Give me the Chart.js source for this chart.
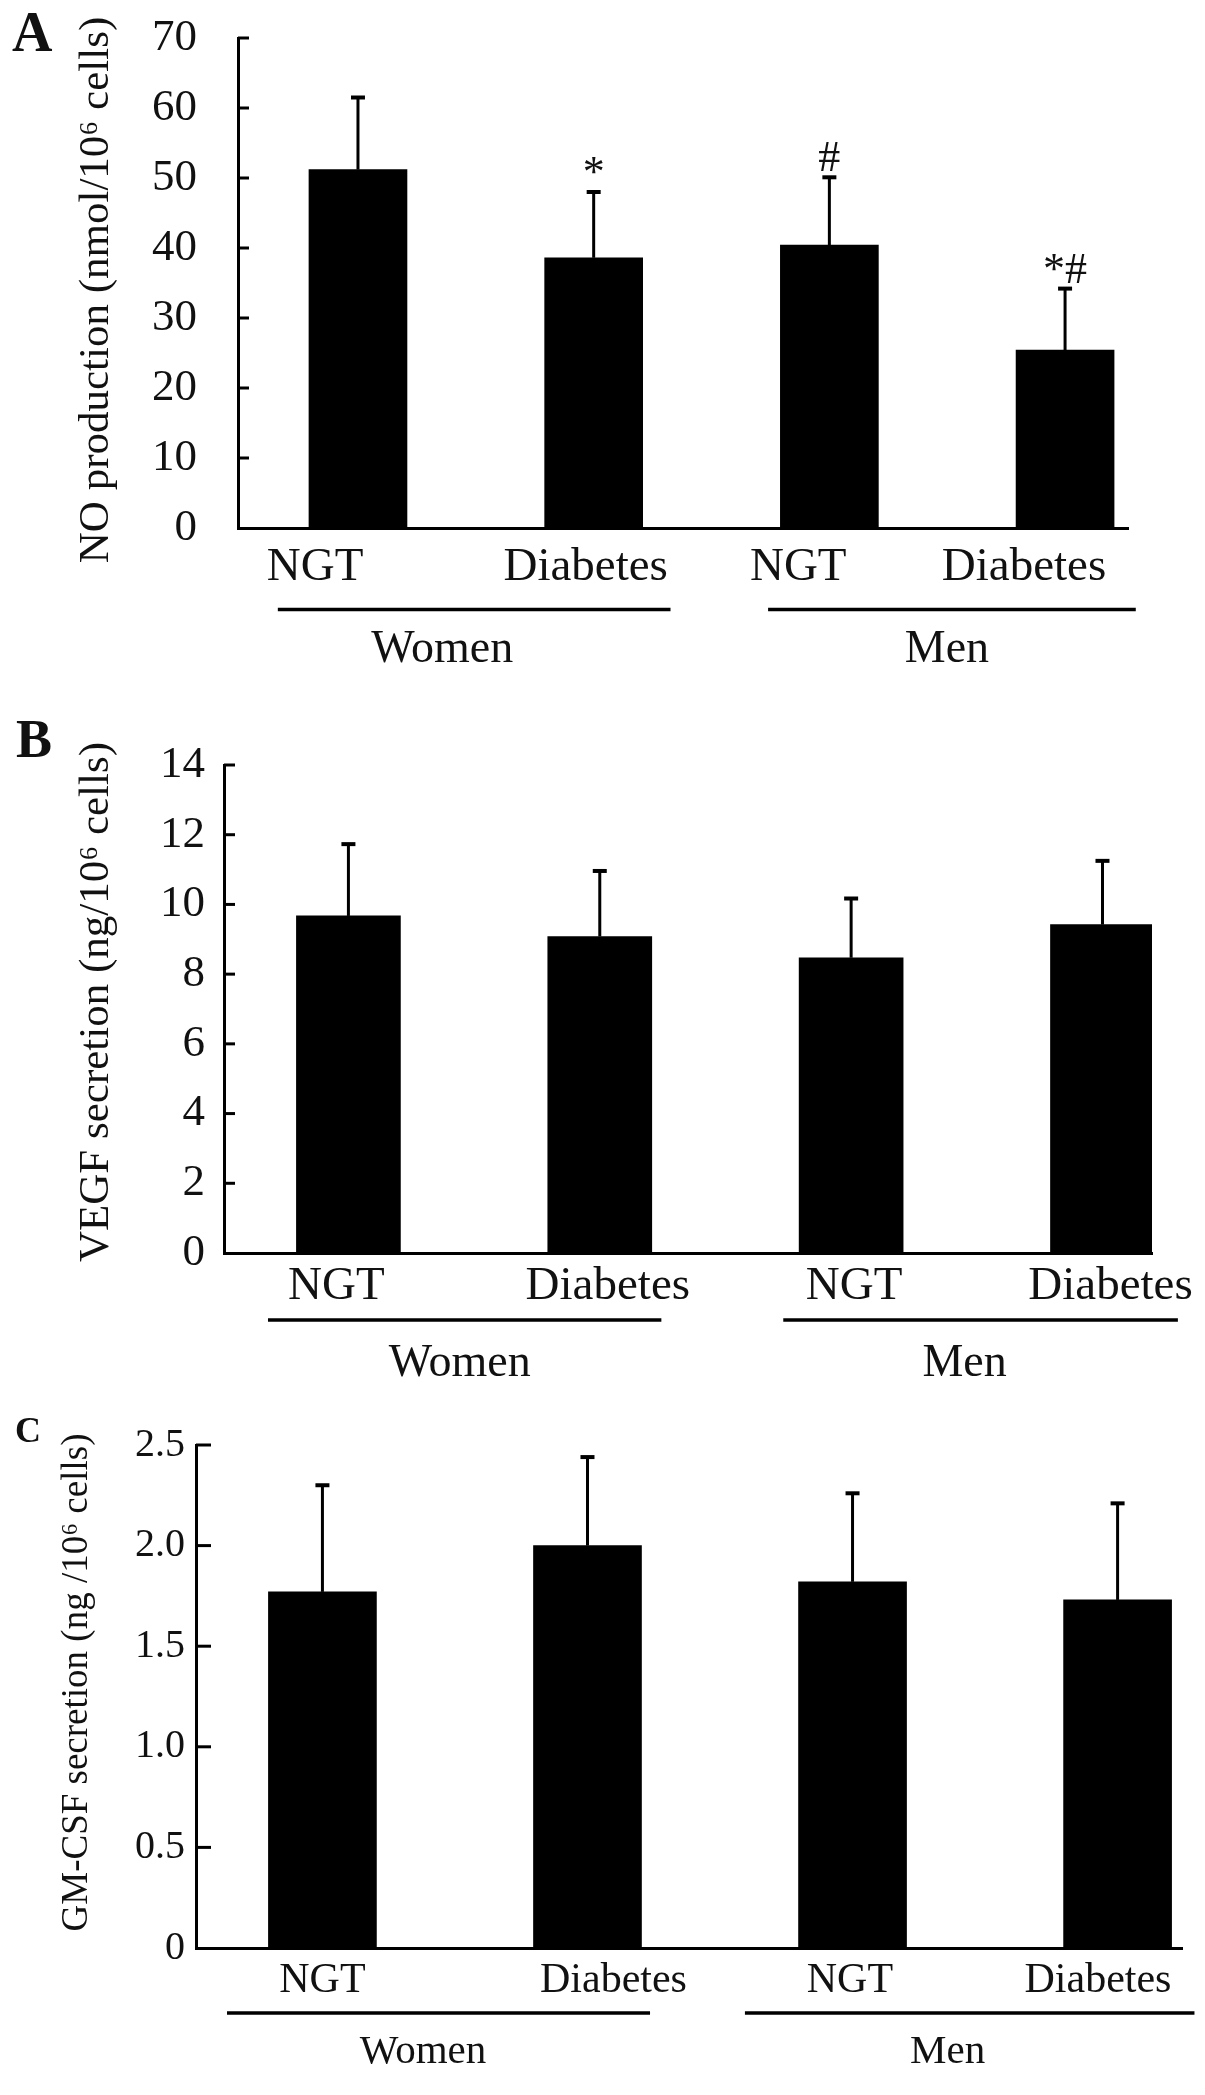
<!DOCTYPE html>
<html>
<head>
<meta charset="utf-8">
<script src="https://cdn.jsdelivr.net/npm/chart.js@4.4.1/dist/chart.umd.min.js"></script>
<style>
  body { margin: 0; background: #fff; }
  canvas { display: block; }
</style>
</head>
<body>
<canvas id="chartA" width="1205" height="700"></canvas>
<canvas id="chartB" width="1205" height="695"></canvas>
<canvas id="chartC" width="1205" height="700"></canvas>
<script>
// shared categories
const categories = ['NGT', 'Diabetes', 'NGT', 'Diabetes'];
const groups = ['Women', 'Men'];
const groupMembers = [[0, 1], [2, 3]];

// A: NO production
const noMeans = [51.2, 38.6, 40.4, 25.4];
const noSD = [10.3, 9.4, 9.7, 8.8];
const noMarks = ['', '*', '#', '*#'];
const noTicks = [0, 10, 20, 30, 40, 50, 60, 70];

// B: VEGF secretion
const vegfMeans = [9.67, 9.08, 8.47, 9.42];
const vegfSD = [2.06, 1.88, 1.70, 1.83];
const vegfTicks = [0, 2, 4, 6, 8, 10, 12, 14];

// C: GM-CSF secretion
const gmcsfMeans = [1.77, 2.00, 1.82, 1.73];
const gmcsfSD = [0.53, 0.44, 0.44, 0.48];
const gmcsfTicks = [0, 0.5, 1.0, 1.5, 2.0, 2.5];

const SERIF = "'Liberation Serif', 'Times New Roman', serif";
const INK = '#111';
const CLEAR = 'rgba(0,0,0,0)';

const decorPlugin = {
    id: 'decor',
    afterDatasetsDraw(chart, args, o) {
        const ctx = chart.ctx;
        const xs = chart.scales.x, ys = chart.scales.y;
        const area = chart.chartArea;
        const line = (x1, y1, x2, y2, w) => {
            ctx.lineWidth = w;
            ctx.beginPath(); ctx.moveTo(x1, y1); ctx.lineTo(x2, y2); ctx.stroke();
        };
        ctx.save();
        ctx.strokeStyle = '#000';
        ctx.fillStyle = INK;

        // inward tick marks on the y axis
        ys.ticks.forEach(t => {
            if (t.value === 0) return;
            const py = ys.getPixelForValue(t.value);
            line(area.left, py, area.left + o.tickLen, py, 3);
        });

        // error bars (upper only) and significance marks
        o.means.forEach((m, i) => {
            const px = xs.getPixelForValue(i + 1);
            const base = ys.getPixelForValue(m);
            const top = ys.getPixelForValue(m + o.sd[i]);
            line(px, base, px, top, 3);
            line(px - 7, top, px + 7, top, 4);
            if (o.marks && o.marks[i]) {
                ctx.font = `${o.markSize}px ${SERIF}`;
                ctx.textAlign = 'center';
                ctx.textBaseline = 'alphabetic';
                ctx.fillText(o.marks[i], px, top - 6);
            }
        });

        // group underlines and labels
        ctx.font = `${o.groupSize}px ${SERIF}`;
        ctx.textAlign = 'center';
        ctx.textBaseline = 'middle';
        groupMembers.forEach((g, k) => {
            const pad = o.groupPad[k];
            const x1 = xs.getPixelForValue(g[0] + 1 - pad[0]);
            const x2 = xs.getPixelForValue(g[g.length - 1] + 1 + pad[1]);
            const ly = area.bottom + o.groupLineY;
            line(x1, ly, x2, ly, 3.5);
            ctx.fillText(groups[k], (x1 + x2) / 2 + o.groupShift[k], area.bottom + o.groupTextY);
        });

        // rotated y title
        ctx.save();
        ctx.translate(o.titleX, (area.top + area.bottom) / 2 + o.titleDy);
        ctx.rotate(-Math.PI / 2);
        ctx.font = `${o.titleSize}px ${SERIF}`;
        ctx.fillText(o.title, 0, 0);
        ctx.restore();

        // panel letter
        ctx.font = `bold ${o.letterSize}px ${SERIF}`;
        ctx.textAlign = 'left';
        ctx.textBaseline = 'alphabetic';
        ctx.fillText(o.letter, o.letterX, o.letterY);
        ctx.restore();
    }
};

function makeChart(id, p) {
    const canvas = document.getElementById(id);
    const h = canvas.height;
    return new Chart(canvas, {
        type: 'bar',
        data: {
            datasets: [{
                data: p.means.map((v, i) => ({ x: i + 1, y: v })),
                backgroundColor: '#000',
                borderWidth: 0,
                barThickness: p.barWidth
            }]
        },
        options: {
            responsive: false,
            animation: false,
            devicePixelRatio: 1,
            layout: { padding: { left: 0, top: p.top, right: 1205 - p.right, bottom: 0 } },
            plugins: {
                legend: { display: false },
                tooltip: { enabled: false },
                decor: p.decor
            },
            scales: {
                x: {
                    type: 'linear',
                    offset: false,
                    bounds: 'data',
                    min: p.xMin,
                    max: p.xMax,
                    grid: { display: false, drawTicks: false, offset: false },
                    border: { display: true, color: '#000', width: 3 },
                    // label positions sit slightly off the bar centres, as in the figure
                    afterBuildTicks: s => {
                        s.ticks = categories.map((c, i) => ({ value: i + 1 + p.labelNudge[i] }));
                    },
                    afterFit: s => { s.height = h - p.bottom; },
                    ticks: {
                        autoSkip: false,
                        maxRotation: 0,
                        minRotation: 0,
                        padding: p.xPad,
                        color: INK,
                        font: { family: SERIF, size: p.catSize },
                        callback: v => categories[Math.round(v) - 1]
                    }
                },
                y: {
                    min: p.yTicks[0],
                    max: p.yTicks[p.yTicks.length - 1],
                    grid: {
                        display: true, drawOnChartArea: false, drawTicks: true,
                        tickLength: p.yGap, tickColor: CLEAR, color: CLEAR
                    },
                    border: { display: true, color: '#000', width: 3 },
                    afterBuildTicks: s => { s.ticks = p.yTicks.map(v => ({ value: v })); },
                    afterFit: s => { s.width = p.left; },
                    ticks: {
                        padding: 0,
                        color: INK,
                        font: { family: SERIF, size: p.tickSize },
                        callback: p.fmt
                    }
                }
            }
        },
        plugins: [decorPlugin]
    });
}

makeChart('chartA', {
    means: noMeans, yTicks: noTicks, fmt: v => String(v),
    left: 238, right: 1128, top: 38, bottom: 528,
    xMin: 0.491, xMax: 4.267, barWidth: 98,
    labelNudge: [-0.182, -0.034, -0.132, -0.174],
    xPad: 11, catSize: 47, tickSize: 45, yGap: 41,
    decor: {
        means: noMeans, sd: noSD, marks: noMarks, markSize: 44, tickLen: 11,
        groupPad: [[0.34, 0.326], [0.26, 0.30]], groupShift: [-32, -5],
        groupLineY: 81.5, groupTextY: 121.5, groupSize: 46,
        title: 'NO production (nmol/10\u2076 cells)', titleSize: 43, titleX: 97, titleDy: 7,
        letter: 'A', letterSize: 56, letterX: 12, letterY: 51
    }
});

makeChart('chartB', {
    means: vegfMeans, yTicks: vegfTicks, fmt: v => String(v),
    left: 224, right: 1152, top: 65, bottom: 553,
    xMin: 0.505, xMax: 4.197, barWidth: 104,
    labelNudge: [-0.048, 0.032, 0.012, 0.032],
    xPad: 5, catSize: 47, tickSize: 45, yGap: 19,
    decor: {
        means: vegfMeans, sd: vegfSD, marks: null, markSize: 44, tickLen: 11,
        groupPad: [[0.32, 0.245], [0.27, 0.30]], groupShift: [-5, -16],
        groupLineY: 67, groupTextY: 110.5, groupSize: 46,
        title: 'VEGF secretion (ng/10\u2076 cells)', titleSize: 43, titleX: 97, titleDy: -7,
        letter: 'B', letterSize: 54, letterX: 16, letterY: 57
    }
});

makeChart('chartC', {
    means: gmcsfMeans, yTicks: gmcsfTicks, fmt: v => (v === 0 ? '0' : v.toFixed(1)),
    left: 196, right: 1182, top: 50, bottom: 553,
    xMin: 0.523, xMax: 4.243, barWidth: 108,
    labelNudge: [0, 0.098, -0.01, -0.074],
    xPad: 8, catSize: 42, tickSize: 40, yGap: 11,
    decor: {
        means: gmcsfMeans, sd: gmcsfSD, marks: null, markSize: 40, tickLen: 15,
        groupPad: [[0.36, 0.236], [0.406, 0.29]], groupShift: [-15.5, -22],
        groupLineY: 65, groupTextY: 104, groupSize: 41,
        title: 'GM-CSF secretion (ng /10\u2076 cells)', titleSize: 37, titleX: 77, titleDy: -14,
        letter: 'C', letterSize: 36, letterX: 15, letterY: 47
    }
});
</script>
</body>
</html>
